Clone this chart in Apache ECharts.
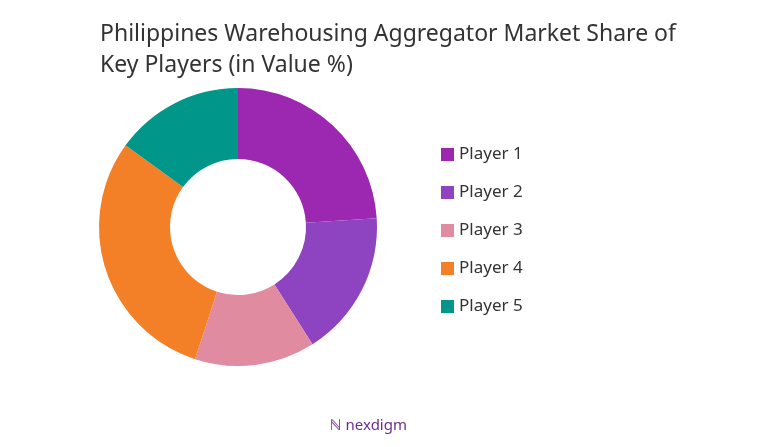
<!DOCTYPE html>
<html>
<head>
<meta charset="utf-8">
<script src="https://cdn.jsdelivr.net/npm/echarts@6/dist/echarts.min.js"></script>
<style>
  html, body { margin: 0; padding: 0; background: #fff; }
  #chart { width: 759px; height: 447px; }
</style>
</head>
<body>
<div id="chart"></div>
<script>
// market share data
const players = ['Player 1', 'Player 2', 'Player 3', 'Player 4', 'Player 5']
const shares = [24, 17, 14, 30, 15]
const colors = ['#9C27B0', '#8E44C0', '#E08BA0', '#F37F27', '#00978A']

const chart = echarts.init(document.getElementById('chart'))

chart.setOption({
  animation: false,
  color: colors,
  title: {
    text: 'Philippines Warehousing Aggregator Market Share of\nKey Players (in Value %)',
    left: 95,
    top: 14,
    textStyle: { fontFamily: 'Noto Sans', fontSize: 23, fontWeight: 'normal', color: '#333', lineHeight: 31 }
  },
  legend: {
    orient: 'vertical',
    left: 436,
    top: 141,
    itemWidth: 13,
    itemHeight: 13,
    itemGap: 21,
    icon: 'rect',
    textStyle: { fontFamily: 'Noto Sans', fontSize: 17, color: '#333' },
    data: players
  },
  graphic: [{
    type: 'text',
    left: 330,
    top: 418,
    style: { text: 'ℕ nexdigm', fontFamily: 'Noto Sans', fontSize: 15, fill: '#6b2c8f' }
  }],
  series: [{
    type: 'pie',
    center: [238, 227],
    radius: [68, 139],
    startAngle: 90,
    clockwise: true,
    label: { show: false },
    labelLine: { show: false },
    data: players.map((name, i) => ({ name, value: shares[i] }))
  }]
})
</script>
</body>
</html>
